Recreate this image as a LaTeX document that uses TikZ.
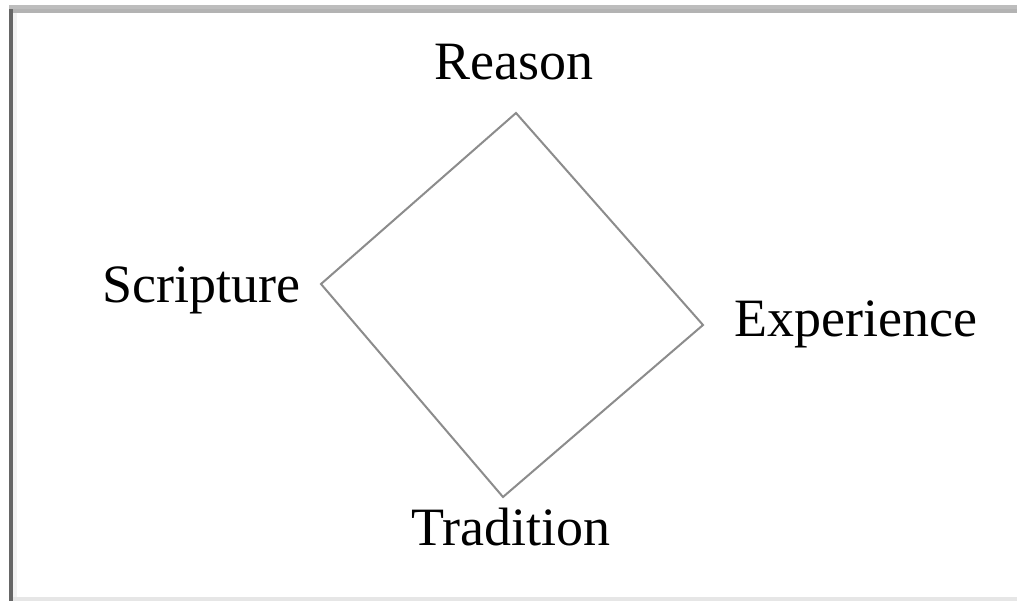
\documentclass[tikz,border=0pt]{standalone}
\usepackage{fontspec}
\setmainfont{Liberation Serif}
\definecolor{topA}{RGB}{189,189,189}
\definecolor{topB}{RGB}{179,179,179}
\definecolor{leftbar}{RGB}{102,102,102}
\definecolor{leftlight}{RGB}{242,242,242}
\definecolor{botbar}{RGB}{230,230,230}
\definecolor{edgegray}{RGB}{140,140,140}
\tikzset{
  lbl/.style={anchor=base west, inner sep=0pt, font=\fontsize{54}{60}\selectfont, text=black},
  side/.style={draw=edgegray, line width=2pt, line join=miter}
}
\begin{document}
\begin{tikzpicture}[x=1pt,y=-1pt]
\useasboundingbox (0,0) rectangle (1017,601);
\fill[white] (0,0) rectangle (1017,601);
% frame
\fill[topA] (9,5) rectangle (1017,9);
\fill[topB] (9,9) rectangle (1017,13);
\fill[leftbar] (9,9) rectangle (13,601);
\fill[leftlight] (13,13) rectangle (17,601);
\fill[botbar] (13,597) rectangle (1017,601);
% labels
\node[lbl] (reason) at (434,80) {Reason};
\node[lbl] (scripture) at (102,303) {Scripture};
\node[lbl] (experience) at (734,337) {Experience};
\node[lbl] (tradition) at (411,545) {Tradition};
% diamond vertices
\coordinate (vr) at (516,113);
\coordinate (vs) at (321,284);
\coordinate (ve) at (703,325);
\coordinate (vt) at (503,497);
\draw[side] (vr) -- (ve) -- (vt) -- (vs) -- cycle;
\end{tikzpicture}
\end{document}
